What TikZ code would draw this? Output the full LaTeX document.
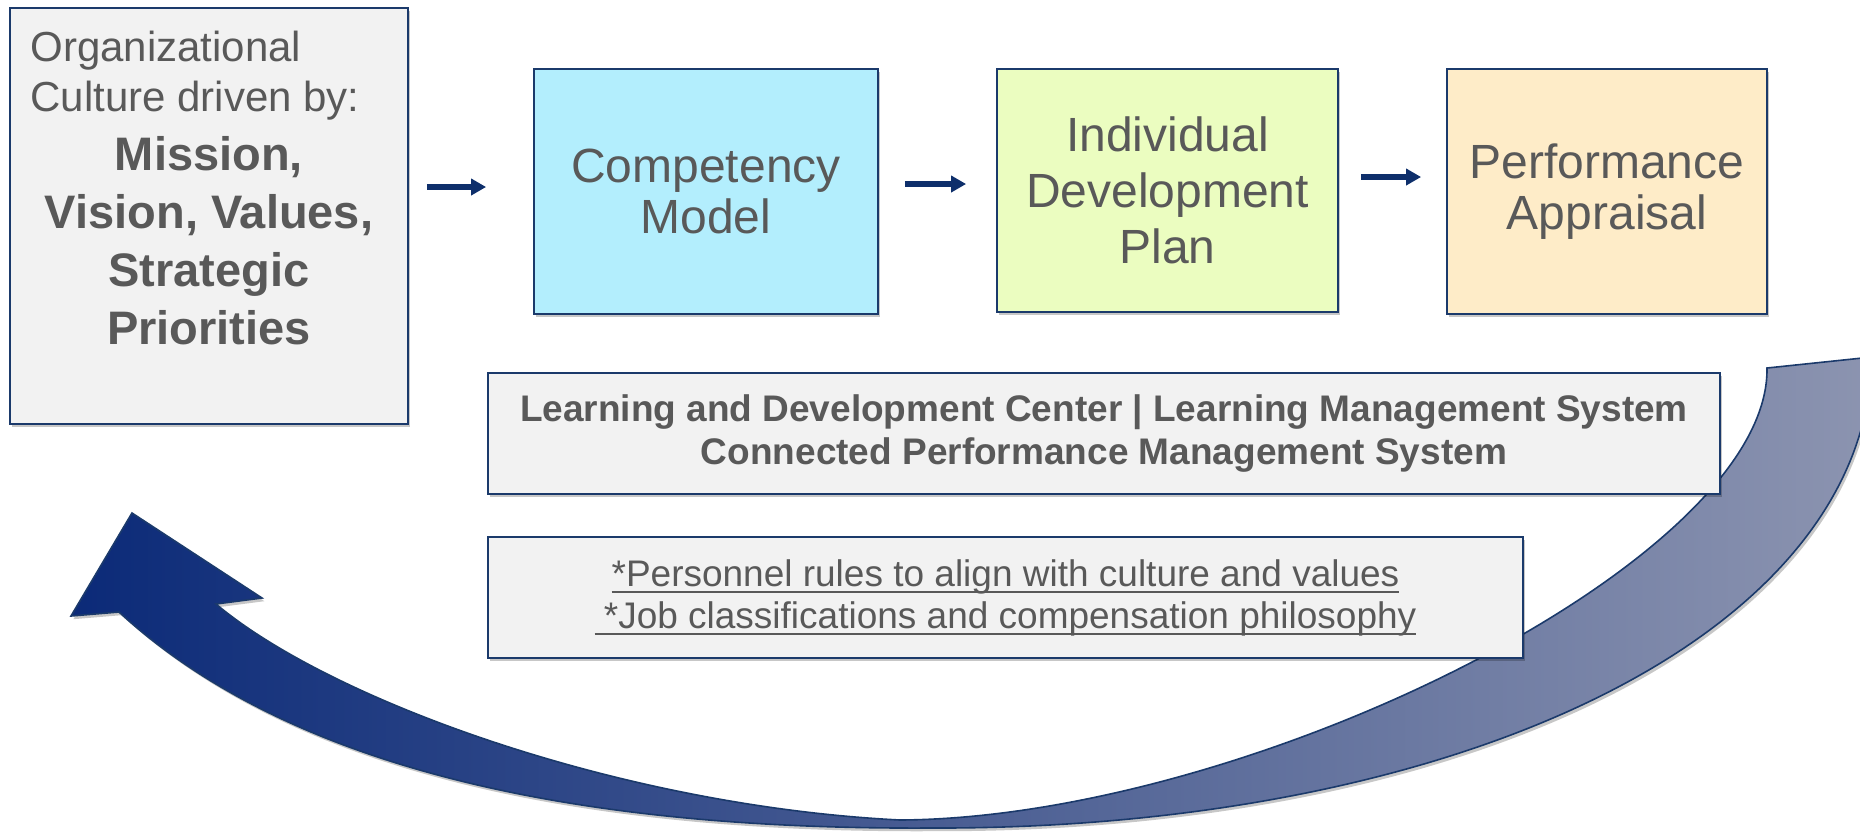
\documentclass[tikz,border=0pt]{standalone}
\usepackage{fontspec}
\setmainfont{Liberation Sans}
\usetikzlibrary{shadows,arrows.meta}
\definecolor{navy}{HTML}{1B3A6B}
\definecolor{txt}{HTML}{595959}
\definecolor{boxgray}{HTML}{F2F2F2}
\definecolor{cmfill}{HTML}{B3EEFD}
\definecolor{idpfill}{HTML}{EBFDC0}
\definecolor{pafill}{HTML}{FEECC8}
\definecolor{connblue}{HTML}{0E2F6B}
\definecolor{arrowdark}{HTML}{0B2A78}
\definecolor{arrowlight}{HTML}{8C94B0}
\newcommand\myul[1]{\setbox0\hbox{#1}\rlap{\rule[-0.2em]{\wd0}{0.07em}}\box0}
\tikzset{
  softshadow/.style={drop shadow={shadow xshift=1.2pt, shadow yshift=-1.6pt, opacity=0.22, fill=black}},
  box/.style={draw=navy, line width=0.9pt, inner sep=0pt, softshadow, text=txt, align=center},
  connarrow/.style={draw=connblue, line width=2.8pt, -{Triangle[length=7.5pt,width=8pt]}},
}
\begin{document}
\begin{tikzpicture}[x=0.5pt, y=-0.5pt]
\path[use as bounding box] (0,0) rectangle (1860,832);

% big return arrow
\path[draw=navy, line width=0.8pt, left color=arrowdark, right color=arrowlight, softshadow]
  (1767,368) -- (1872,357)
  .. controls (1866,640) and (1450,830) .. (930,828)
  .. controls (550,830) and (280,760) .. (119,612)
  -- (71,616) -- (132,513) -- (262,598) -- (216,604)
  .. controls (330,700) and (620,806) .. (900,820)
  .. controls (1250,818) and (1770,560) .. (1767,368) -- cycle;

% culture box
\node[box, fill=boxgray, minimum width=199pt, minimum height=208pt] (culture) at (209,216) {};
\node[anchor=north west, inner sep=0pt, align=left, text=txt, font=\fontsize{21}{25}\selectfont] (culturehead) at (30,31) {Organizational\\Culture driven by:};
\node[anchor=north, inner sep=0pt, align=center, text=txt, font=\bfseries\fontsize{23.5}{29}\selectfont] (drivers) at (209,136) {Mission,\\Vision, Values,\\Strategic\\Priorities};

% process boxes
\node[box, fill=cmfill, minimum width=172pt, minimum height=122.5pt, font=\fontsize{24}{25.5}\selectfont] (cm) at (706,191.5) {Competency\\Model};
\node[box, fill=idpfill, minimum width=170.5pt, minimum height=121.5pt, font=\fontsize{24}{28}\selectfont] (idp) at (1167.5,190.5) {Individual\\Development\\Plan};
\node[box, fill=pafill, minimum width=160pt, minimum height=122.5pt, font=\fontsize{24}{25.5}\selectfont] (pa) at (1607,191.5) {Performance\\Appraisal};

% system boxes
\node[box, fill=boxgray, minimum width=616pt, minimum height=60.5pt, font=\bfseries\fontsize{18.5}{21.5}\selectfont] (ldc) at (1104,433.5) {Learning and Development Center | Learning Management System\\Connected Performance Management System};
\node[box, fill=boxgray, minimum width=517.5pt, minimum height=60.5pt, font=\fontsize{18.5}{21}\selectfont] (rules) at (1005.5,597.5) {\myul{*Personnel rules to align with culture and values}\\\myul{\hspace{0.25em}*Job classifications and compensation philosophy}};

% connectors
\draw[connarrow, shorten <=9pt, shorten >=23.5pt] ([yshift=2.25pt]culture.east |- cm.west) -- ([yshift=2.25pt]cm.west);
\draw[connarrow, shorten <=13pt, shorten >=15pt] ([yshift=3.75pt]cm.east) -- ([yshift=3.75pt]cm.east -| idp.west);
\draw[connarrow, shorten <=11pt, shorten >=12.5pt] ([yshift=6.75pt]idp.east) -- ([yshift=6.75pt]idp.east -| pa.west);
\end{tikzpicture}
\end{document}
